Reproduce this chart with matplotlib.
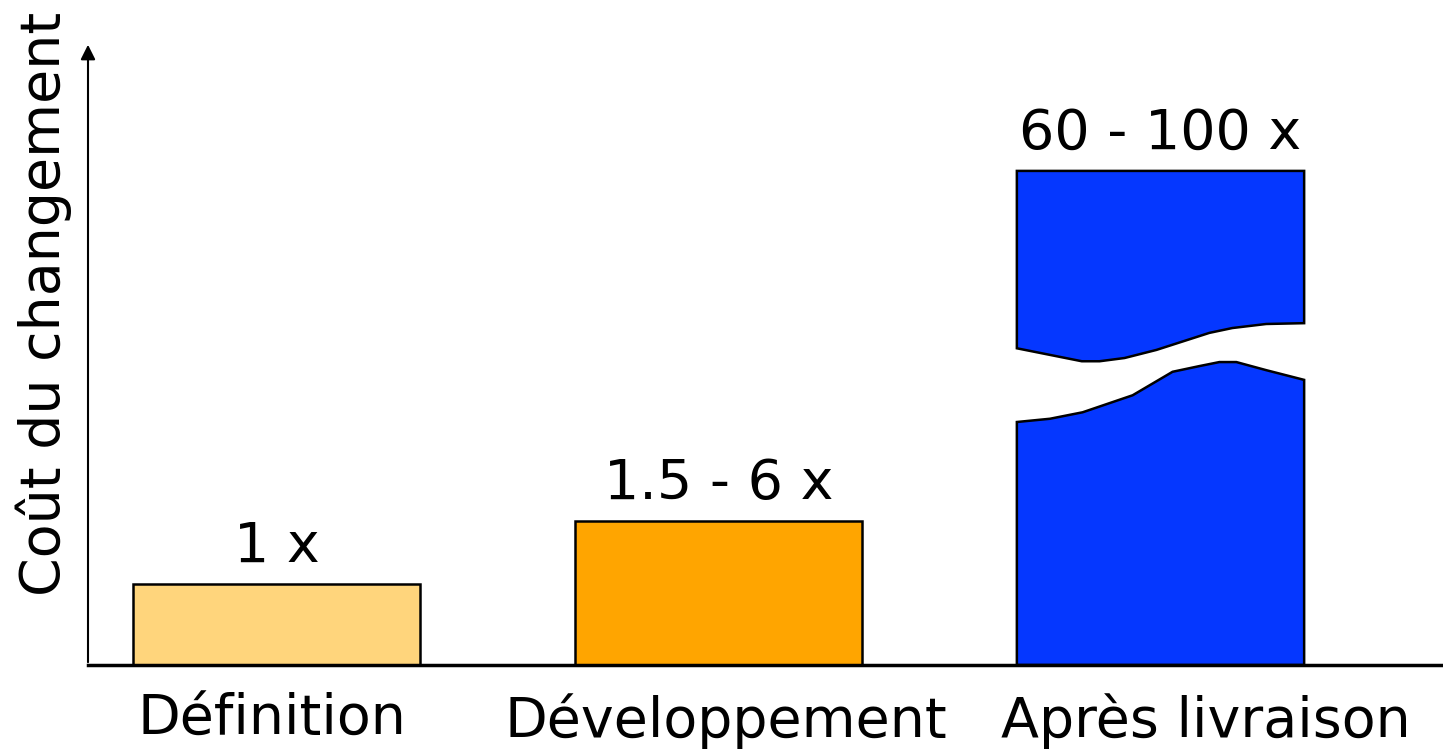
import numpy as np
import matplotlib.pyplot as plt

# stages and relative cost (1 unit = cost at definition stage, bar heights as drawn)
stages = ['Définition', 'Développement', 'Après livraison']
heights = [1.0, 1.78, 6.1]
cost_labels = ['1 x', '1.5 - 6 x', '60 - 100 x']
colors = ['#FFD57C', '#FFA500', '#0537FF']

# break in the last bar: position across the bar (0..1) and level in bar units
upper_cut_x = [0, 0.226, 0.288, 0.375, 0.486, 0.670, 0.750, 0.868, 1.0]
upper_cut_y = [3.91, 3.75, 3.75, 3.79, 3.89, 4.10, 4.16, 4.21, 4.22]
lower_cut_x = [0, 0.115, 0.229, 0.403, 0.542, 0.635, 0.705, 0.764, 0.868, 1.0]
lower_cut_y = [3.00, 3.04, 3.12, 3.33, 3.62, 3.69, 3.74, 3.74, 3.64, 3.52]

plt.rcParams['font.family'] = ['DejaVu Sans']

W, H = 1443, 749
fig = plt.figure(figsize=(W / 100, H / 100), dpi=100)
ax = fig.add_axes([88 / W, (H - 665) / H, (W - 88) / W, (665 - 42) / H])

width = 0.65
x = np.arange(len(stages))

# first two bars are plain
ax.bar(x[:2], heights[:2], width=width, color=colors[:2], edgecolor='black', linewidth=1.8)

# last bar drawn in two pieces with a break
x0 = x[2] - width / 2
x1 = x[2] + width / 2
ux = x0 + np.array(upper_cut_x) * width
lx = x0 + np.array(lower_cut_x) * width
top = heights[2]
upper_poly_x = [x0, x1] + list(ux[::-1])
upper_poly_y = [top, top] + list(np.array(upper_cut_y)[::-1])
ax.fill(upper_poly_x, upper_poly_y, facecolor=colors[2], edgecolor='black', linewidth=1.8)
lower_poly_x = [x0, x1] + list(lx[::-1])
lower_poly_y = [0, 0] + list(np.array(lower_cut_y)[::-1])
ax.fill(lower_poly_x, lower_poly_y, facecolor=colors[2], edgecolor='black', linewidth=1.8)

for xi, h, lab in zip(x, heights, cost_labels):
    ax.annotate(lab, xy=(xi, h), xytext=(0, 16), textcoords='offset points',
                ha='center', va='baseline', fontsize=40)

ax.set_xlim((88 - 276.5) / 442, (1443 - 276.5) / 442)
ax.set_ylim(0, 623 / 81)

# category labels sit slightly right of the bar centres in the original
ax.set_xticks(x + np.array([-0.01, 0.017, 0.103]))
ax.set_xticklabels(stages, fontsize=40)
ax.tick_params(axis='x', length=0, pad=20)
ax.set_yticks([])

for s in ['top', 'right', 'left']:
    ax.spines[s].set_visible(False)
ax.spines['bottom'].set_linewidth(2.5)

# y axis with arrow
ax.annotate('', xy=(0, 1), xycoords='axes fraction', xytext=(0, 0),
            arrowprops=dict(arrowstyle='-|>', lw=1.5, color='black', mutation_scale=22))

fig.text(44 / W, (H - 304) / H, 'Coût du changement', rotation=90,
         ha='center', va='center', fontsize=40)

fig.savefig('out.png', dpi=100)
